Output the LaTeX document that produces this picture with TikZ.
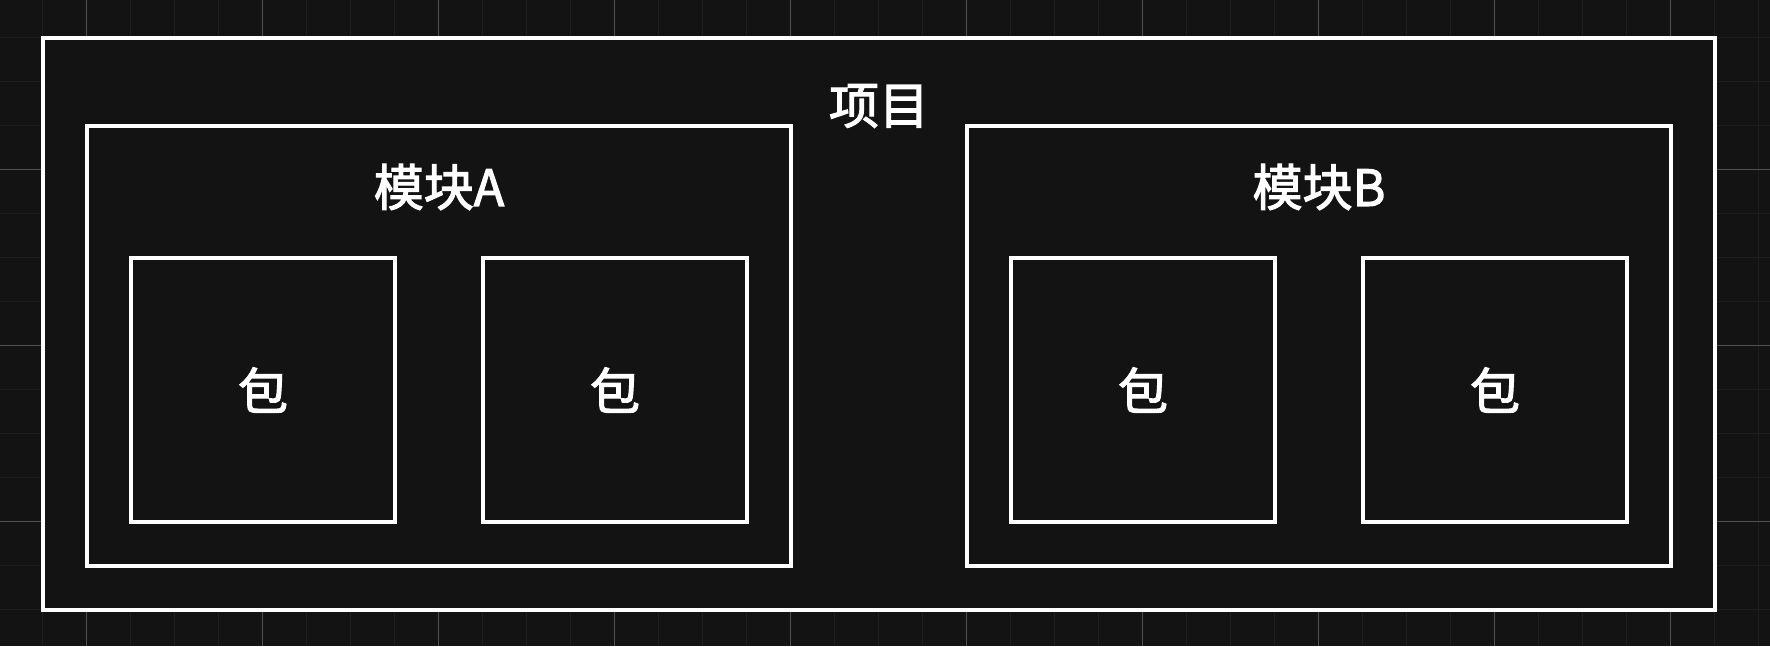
\documentclass[tikz,border=0pt]{standalone}
\usepackage{fontspec}
\newfontfamily\cjk[UprightFeatures={FakeBold=2.2}]{Noto Sans CJK SC}
\definecolor{bg}{HTML}{131313}
\definecolor{gridminor}{HTML}{1E1E1E}
\definecolor{gridmajor}{HTML}{505050}
\tikzset{
  frame/.style={draw=white, fill=bg, line width=4pt, rectangle, inner sep=0pt, outer sep=0pt},
  pkgbox/.style={frame, minimum width=264pt, minimum height=264pt, font=\cjk\fontsize{50}{50}\selectfont, text=white},
  lbl/.style={text=white, font=\cjk\fontsize{50}{50}\selectfont, inner sep=0pt},
  minorline/.style={draw=gridminor, line width=1pt},
  majorline/.style={draw=gridmajor, line width=1pt}
}
\begin{document}
\begin{tikzpicture}[x=1pt,y=-1pt]
\fill[bg] (0,0) rectangle (1770,646);
\useasboundingbox (0,0) rectangle (1770,646);
% grid
\foreach \i in {0,...,39} { \draw[minorline] ({42+44*\i},0) -- ({42+44*\i},646); }
\foreach \j in {0,...,13} { \draw[minorline] (0,{37+44*\j}) -- (1770,{37+44*\j}); }
\foreach \i in {0,...,9} { \draw[majorline] ({86+176*\i},0) -- ({86+176*\i},646); }
\foreach \j in {0,...,2} { \draw[majorline] (0,{169+176*\j}) -- (1770,{169+176*\j}); }
% project
\node[frame, minimum width=1672pt, minimum height=572pt] (proj) at (879,324) {};
\node[lbl] (projlbl) at (879,106) {项目};
% modules
\node[frame, minimum width=704pt, minimum height=440pt] (modA) at (439,346) {};
\node[frame, minimum width=704pt, minimum height=440pt] (modB) at (1319,346) {};
\node[lbl] (modAlbl) at (439,187) {模块A};
\node[lbl] (modBlbl) at (1319,187) {模块B};
% packages
\node[pkgbox] (p1) at (263,390) {包};
\node[pkgbox] (p2) at (615,390) {包};
\node[pkgbox] (p3) at (1143,390) {包};
\node[pkgbox] (p4) at (1495,390) {包};
\end{tikzpicture}
\end{document}
